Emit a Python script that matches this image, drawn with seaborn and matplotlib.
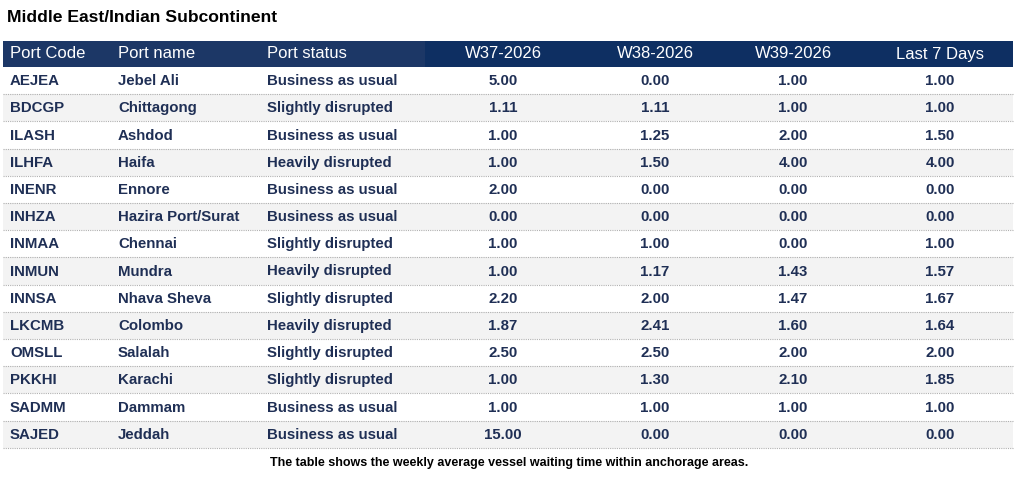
import numpy as np
import pandas as pd
import matplotlib
matplotlib.use("Agg")
import matplotlib.pyplot as plt
import seaborn as sns

title = "Middle East/Indian Subcontinent"
caption = "The table shows the weekly average vessel waiting time within anchorage areas."
columns = ["Port Code", "Port name", "Port status", "W37-2026", "W38-2026", "W39-2026", "Last 7 Days"]
codes = ["AEJEA", "BDCGP", "ILASH", "ILHFA", "INENR", "INHZA", "INMAA", "INMUN", "INNSA",
         "LKCMB", "OMSLL", "PKKHI", "SADMM", "SAJED"]
names = ["Jebel Ali", "Chittagong", "Ashdod", "Haifa", "Ennore", "Hazira Port/Surat", "Chennai",
         "Mundra", "Nhava Sheva", "Colombo", "Salalah", "Karachi", "Dammam", "Jeddah"]
status = ["Business as usual", "Slightly disrupted", "Business as usual", "Heavily disrupted",
          "Business as usual", "Business as usual", "Slightly disrupted", "Heavily disrupted",
          "Slightly disrupted", "Heavily disrupted", "Slightly disrupted", "Slightly disrupted",
          "Business as usual", "Business as usual"]
w37 = [5.00, 1.11, 1.00, 1.00, 2.00, 0.00, 1.00, 1.00, 2.20, 1.87, 2.50, 1.00, 1.00, 15.00]
w38 = [0.00, 1.11, 1.25, 1.50, 0.00, 0.00, 1.00, 1.17, 2.00, 2.41, 2.50, 1.30, 1.00, 0.00]
w39 = [1.00, 1.00, 2.00, 4.00, 0.00, 0.00, 0.00, 1.43, 1.47, 1.60, 2.00, 2.10, 1.00, 0.00]
last7 = [1.00, 1.00, 1.50, 4.00, 0.00, 0.00, 1.00, 1.57, 1.67, 1.64, 2.00, 1.85, 1.00, 0.00]

df = pd.DataFrame({"Port Code": codes, "Port name": names, "Port status": status,
                   "W37-2026": w37, "W38-2026": w38, "W39-2026": w39, "Last 7 Days": last7})

sns.set_theme(style="white")
plt.rcParams["font.family"] = ["Liberation Sans", "DejaVu Sans"]

W, H = 1017, 500
fig = plt.figure(figsize=(W / 100, H / 100), dpi=100)
ax = fig.add_axes([0, 0, 1, 1])
ax.set_xlim(0, W)
ax.set_ylim(H, 0)
ax.axis("off")

navy = "#1c3766"
navy2 = "#0e2f62"
txt = "#1f2f55"
left, right = 3, 1013
head_top, row_h = 41, 27.2
col_x = [10, 118, 267, 503, 655, 793, 940]
col_ha = ["left", "left", "left", "center", "center", "center", "center"]

ax.text(7, 18, title, fontsize=12.6, fontweight="bold", color="black", va="center")

# header
ax.add_patch(plt.Rectangle((left, head_top), 425 - left, 26, color=navy, lw=0))
ax.add_patch(plt.Rectangle((425, head_top), right - 425, 26, color=navy2, lw=0))
for x, ha, c in zip(col_x, col_ha, columns):
    ax.text(x, head_top + 13, c, color="white", fontsize=12, ha=ha, va="center")

y0 = head_top + 26
for i, row in df.iterrows():
    top = y0 + i * row_h
    if i % 2 == 1:
        ax.add_patch(plt.Rectangle((left, top), right - left, row_h, color="#f3f3f3", lw=0))
    ax.plot([left, right], [top + row_h, top + row_h], color="#b0b0b0", lw=0.8, ls=(0, (1, 1)))
    vals = [row["Port Code"], row["Port name"], row["Port status"]] + \
           [f"{row[c]:.2f}" for c in columns[3:]]
    for x, ha, v in zip(col_x, col_ha, vals):
        ax.text(x, top + row_h / 2 + 0.5, v, color=txt, fontsize=10.8, fontweight="bold",
                ha=ha, va="center")

ax.text(509, 463, caption, fontsize=9, fontweight="bold", color="black", ha="center", va="center")

fig.savefig("out.png", dpi=100)
